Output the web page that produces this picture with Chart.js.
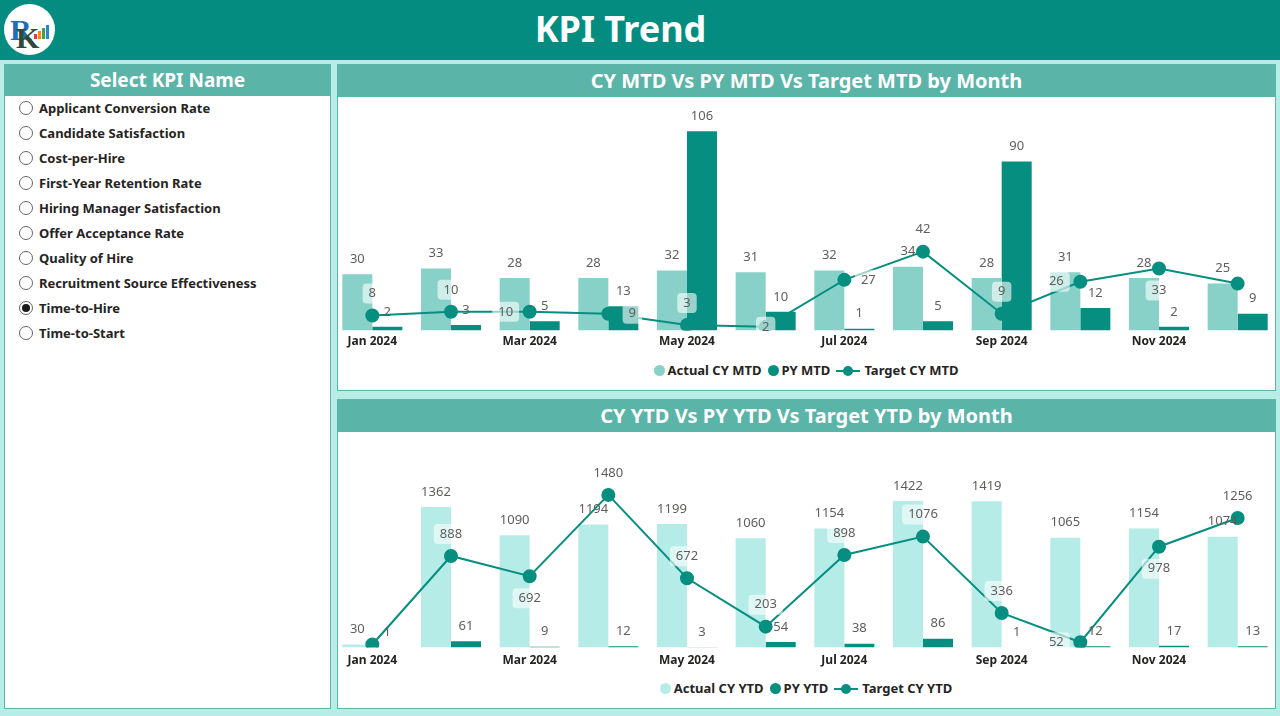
<!DOCTYPE html>
<html>
<head>
<meta charset="utf-8">
<title>KPI Trend</title>
<script src="https://cdn.jsdelivr.net/npm/chart.js@4.4.1/dist/chart.umd.min.js"></script>
<style>
  body { margin: 0; width: 1280px; height: 716px; background: #b8ece7; font-family: "Noto Sans", "Open Sans", sans-serif; position: relative; overflow: hidden; }
  .topbar { position: absolute; left: 0; top: 0; width: 1280px; height: 60px; background: #038c7f; }
  .topbar h1 { position: absolute; left: 0; top: 0; width: 1241px; margin: 0; line-height: 58px; text-align: center; color: #fff; font-size: 36px; font-weight: 700; }
  .logo { position: absolute; left: 4px; top: 4px; width: 51px; height: 51px; border-radius: 50%; background: #fff; }
  .panel { position: absolute; background: #fff; border: 1px solid #5db5aa; box-sizing: border-box; }
  .panel .head { height: 31px; background: #5ab4a8; color: #fff; font-weight: 700; font-size: 19px; text-align: center; line-height: 30px; }
  .kpi { position: absolute; left: 14px; font-size: 13px; font-weight: 700; color: #252423; line-height: 18px; }
  .kpi .radio { position: absolute; left: 0; top: 2px; width: 12px; height: 12px; border: 1px solid #666; border-radius: 50%; box-sizing: content-box; }
  .kpi .radio.on::after { content: ""; position: absolute; left: 2px; top: 2px; width: 8px; height: 8px; border-radius: 50%; background: #1a1a1a; }
  .kpi span { position: absolute; left: 20px; white-space: nowrap; }
  canvas { position: absolute; }
  .legend { position: absolute; left: 337px; width: 938px; text-align: center; font-size: 13px; font-weight: 700; color: #252423; white-space: nowrap; }
  .legend .item { display: inline-block; margin: 0 3px; }
  .legend .dot { display: inline-block; width: 11px; height: 11px; border-radius: 50%; vertical-align: -1px; margin-right: 3px; }
  .legend .ln { display: inline-block; position: relative; width: 24px; height: 11px; vertical-align: -1px; margin-right: 4px; }
  .legend .ln::before { content: ""; position: absolute; left: 0; right: 0; top: 5px; height: 2px; background: var(--c); }
  .legend .ln::after { content: ""; position: absolute; left: 7px; top: 1px; width: 10px; height: 10px; border-radius: 50%; background: var(--c); }
</style>
</head>
<body>
<div class="topbar">
  <div class="logo">
    <svg width="51" height="51" viewBox="0 0 51 51">
      <text x="6" y="36" font-family="Liberation Serif" font-size="30" font-weight="700" fill="#1f6fb5">R</text>
      <text x="12" y="44" font-family="Liberation Serif" font-size="30" font-weight="700" fill="#2d4a3a">K</text>
      <rect x="30" y="30" width="3" height="5" fill="#e53935"/>
      <rect x="34" y="27" width="3" height="8" fill="#fb8c00"/>
      <rect x="38" y="24" width="3" height="11" fill="#43a047"/>
      <rect x="42" y="21" width="3" height="14" fill="#1e88e5"/>
    </svg>
  </div>
  <h1>KPI Trend</h1>
</div>

<div class="panel" style="left:4px; top:64px; width:327px; height:645px;">
  <div class="head">Select KPI Name</div>
  <div id="kpiList"></div>
</div>

<div class="panel" style="left:337px; top:64px; width:939px; height:327px;">
  <div class="head" style="font-size:20px; height:32px; line-height:32px;">CY MTD Vs PY MTD Vs Target MTD by Month</div>
</div>
<div class="panel" style="left:337px; top:399px; width:939px; height:310px;">
  <div class="head" style="font-size:20px; height:32px; line-height:32px;">CY YTD Vs PY YTD Vs Target YTD by Month</div>
</div>

<canvas id="mtdChart" style="left:325px; top:97px;"></canvas>
<canvas id="ytdChart" style="left:325px; top:432px;"></canvas>
<div class="legend" id="mtdLegend" style="top:361px;"></div>
<div class="legend" id="ytdLegend" style="top:679px;"></div>

<script>
const kpiNames = ["Applicant Conversion Rate", "Candidate Satisfaction", "Cost-per-Hire", "First-Year Retention Rate",
  "Hiring Manager Satisfaction", "Offer Acceptance Rate", "Quality of Hire", "Recruitment Source Effectiveness",
  "Time-to-Hire", "Time-to-Start"];
const selectedKpi = "Time-to-Hire";

const months = ["Jan 2024", "Feb 2024", "Mar 2024", "Apr 2024", "May 2024", "Jun 2024",
  "Jul 2024", "Aug 2024", "Sep 2024", "Oct 2024", "Nov 2024", "Dec 2024"];

const actualMtd = [30, 33, 28, 28, 32, 31, 32, 34, 28, 31, 28, 25];
const pyMtd = [2, 3, 5, 13, 106, 10, 1, 5, 90, 12, 2, 9];
const targetMtd = [8, 10, 10, 9, 3, 2, 27, 42, 9, 26, 33, 25];

const actualYtd = [30, 1362, 1090, 1194, 1199, 1060, 1154, 1422, 1419, 1065, 1154, 1074];
const pyYtd = [1, 61, 9, 12, 3, 54, 38, 86, 1, 12, 17, 13];
const targetYtd = [30, 888, 692, 1480, 672, 203, 898, 1076, 336, 52, 978, 1256];

// where the target label sits relative to its point (none = hidden by overlap)
const mtdTargetLabelPos = ["top", "top", "left", "right", "top", "center", "right", "top", "top", "left", "bottom", "none"];
const ytdTargetLabelPos = ["none", "top", "bottom", "top", "top", "top", "top", "top", "top", "left", "bottom", "top"];

// slicer list
const list = document.getElementById("kpiList");
kpiNames.forEach((name, i) => {
  const row = document.createElement("div");
  row.className = "kpi";
  row.style.top = (34 + i * 25) + "px";
  row.innerHTML = '<div class="radio' + (name === selectedKpi ? ' on' : '') + '"></div><span>' + name + '</span>';
  list.appendChild(row);
});

const font = '"Noto Sans", "Open Sans", sans-serif';

const valueLabels = {
  id: "valueLabels",
  afterDatasetsDraw(chart, args, opts) {
    const ctx = chart.ctx;
    ctx.save();
    ctx.font = "13px " + font;
    ctx.textAlign = "center";
    ctx.textBaseline = "middle";
    chart.data.datasets.forEach((ds, di) => {
      const meta = chart.getDatasetMeta(di);
      meta.data.forEach((el, i) => {
        const txt = String(ds.data[i]);
        let x = el.x, y = el.y;
        if (ds.type === "line") {
          const pos = opts.targetPos[i];
          if (pos === "none") return;
          if (pos === "top") y -= 22;
          if (pos === "bottom") y += 22;
          if (pos === "left") x -= 24;
          if (pos === "right") x += 24;
          const w = ctx.measureText(txt).width + 12;
          ctx.fillStyle = "rgba(255,255,255,0.6)";
          ctx.beginPath();
          ctx.roundRect(x - w / 2, y - 10, w, 20, 4);
          ctx.fill();
        } else {
          y = el.y - 15;
        }
        ctx.fillStyle = "#605e5c";
        ctx.fillText(txt, x, y);
      });
    });
    ctx.restore();
  }
};

function buildChart(id, legendId, actual, py, target, labelNames, actualColor, yMax, height, tickPad, targetPos) {
  const canvas = document.getElementById(id);
  canvas.width = 960;
  canvas.height = height;
  canvas.style.width = "960px";
  canvas.style.height = height + "px";
  const chart = new Chart(canvas, {
    type: "bar",
    data: {
      labels: months,
      datasets: [
        {
          type: "line",
          label: labelNames[2],
          data: target,
          borderColor: "#068f80",
          backgroundColor: "#068f80",
          borderWidth: 2,
          pointRadius: 6,
          pointHoverRadius: 6,
          order: 0
        },
        {
          label: labelNames[0],
          data: actual,
          backgroundColor: actualColor,
          categoryPercentage: 0.763,
          barPercentage: 1,
          order: 1
        },
        {
          label: labelNames[1],
          data: py,
          backgroundColor: "#068f80",
          categoryPercentage: 0.763,
          barPercentage: 1,
          order: 1
        }
      ]
    },
    options: {
      responsive: false,
      animation: false,
      layout: { padding: 0 },
      scales: {
        x: {
          grid: { display: false, drawTicks: false },
          border: { display: false },
          ticks: {
            autoSkip: false,
            maxRotation: 0,
            padding: tickPad,
            color: "#252423",
            font: { family: font, size: 12, weight: "bold" },
            callback: function (value, index) {
              return index % 2 === 0 ? this.getLabelForValue(value) : "";
            }
          }
        },
        y: { display: false, min: 0, max: yMax }
      },
      plugins: {
        legend: { display: false },
        tooltip: { enabled: false },
        valueLabels: { targetPos: targetPos }
      }
    },
    plugins: [valueLabels]
  });

  // legend in the order Power BI shows it: actual, PY, target
  const legend = document.getElementById(legendId);
  [1, 2, 0].forEach(i => {
    const ds = chart.data.datasets[i];
    const item = document.createElement("span");
    item.className = "item";
    if (ds.type === "line") {
      item.innerHTML = '<span class="ln" style="--c:' + ds.borderColor + '"></span>' + ds.label;
    } else {
      item.innerHTML = '<span class="dot" style="background:' + ds.backgroundColor + '"></span>' + ds.label;
    }
    legend.appendChild(item);
  });
  return chart;
}

buildChart("mtdChart", "mtdLegend", actualMtd, pyMtd, targetMtd,
  ["Actual CY MTD", "PY MTD", "Target CY MTD"], "#88d1c8", 120, 256, 4, mtdTargetLabelPos);
buildChart("ytdChart", "ytdLegend", actualYtd, pyYtd, targetYtd,
  ["Actual CY YTD", "PY YTD", "Target CY YTD"], "#b5ece7", 2012, 242, 6, ytdTargetLabelPos);
</script>
</body>
</html>
